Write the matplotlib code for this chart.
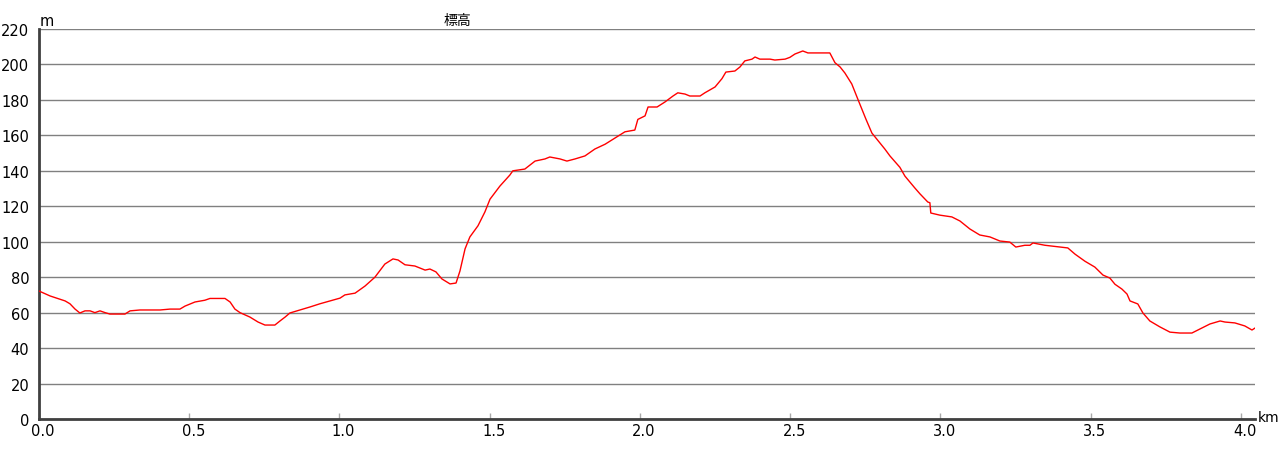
import matplotlib
matplotlib.use("Agg")
import matplotlib.pyplot as plt
import matplotlib.transforms as mtrans

plt.rcParams['font.family'] = ['DejaVu Sans', 'Noto Sans CJK JP']

# distance (km) and elevation (m)
dist_km = [0.000, 0.037, 0.087, 0.103, 0.120, 0.136, 0.153, 0.170, 0.186, 0.203,
           0.220, 0.236, 0.286, 0.303, 0.336, 0.403, 0.436, 0.469, 0.486, 0.519,
           0.552, 0.569, 0.619, 0.636, 0.652, 0.669, 0.702, 0.729, 0.752, 0.785,
           0.802, 0.819, 0.835, 0.869, 0.902, 0.935, 0.968, 1.002, 1.018, 1.052,
           1.085, 1.118, 1.151, 1.178, 1.195, 1.218, 1.251, 1.285, 1.301, 1.321,
           1.341, 1.368, 1.388, 1.401, 1.418, 1.434, 1.461, 1.484, 1.501, 1.534,
           1.567, 1.577, 1.617, 1.651, 1.684, 1.700, 1.734, 1.757, 1.784, 1.817,
           1.850, 1.884, 1.917, 1.950, 1.983, 1.993, 2.017, 2.027, 2.057, 2.083,
           2.110, 2.126, 2.150, 2.166, 2.200, 2.216, 2.250, 2.273, 2.286, 2.316,
           2.333, 2.349, 2.373, 2.383, 2.399, 2.433, 2.449, 2.483, 2.499, 2.516,
           2.542, 2.559, 2.582, 2.632, 2.649, 2.666, 2.682, 2.705, 2.725, 2.752,
           2.772, 2.799, 2.815, 2.832, 2.865, 2.882, 2.915, 2.932, 2.958, 2.965,
           2.968, 2.998, 3.038, 3.065, 3.098, 3.131, 3.165, 3.198, 3.231, 3.251,
           3.281, 3.298, 3.308, 3.348, 3.398, 3.424, 3.448, 3.481, 3.514, 3.541,
           3.564, 3.581, 3.604, 3.621, 3.631, 3.657, 3.674, 3.697, 3.730, 3.764,
           3.797, 3.837, 3.864, 3.897, 3.931, 3.947, 3.980, 4.013, 4.037, 4.047]
elev_m = [72.2, 69.4, 66.6, 65.0, 62.0, 59.8, 61.0, 61.0, 60.0, 61.0,
          60.0, 59.2, 59.2, 61.0, 61.5, 61.5, 62.0, 62.0, 63.7, 66.0,
          67.0, 68.0, 68.0, 66.0, 62.0, 60.0, 57.5, 54.7, 53.0, 53.0,
          55.3, 57.5, 59.8, 61.5, 63.2, 65.0, 66.6, 68.2, 70.0, 71.0,
          75.0, 80.0, 87.4, 90.3, 89.7, 87.0, 86.3, 84.0, 84.6, 83.0,
          79.0, 76.2, 76.7, 83.5, 96.0, 102.7, 109.0, 116.8, 124.0, 131.4,
          137.6, 140.0, 141.0, 145.5, 146.7, 147.8, 146.7, 145.5, 146.7, 148.4,
          152.3, 155.0, 158.5, 162.0, 163.0, 169.0, 171.0, 176.0, 176.0, 178.8,
          182.2, 184.0, 183.3, 182.2, 182.2, 184.0, 187.3, 192.0, 195.7, 196.3,
          198.6, 202.0, 203.0, 204.2, 203.0, 203.0, 202.5, 203.0, 204.0, 205.9,
          207.6, 206.5, 206.5, 206.5, 201.0, 198.6, 195.2, 189.0, 180.5, 169.2,
          161.3, 155.7, 152.3, 148.4, 142.0, 137.0, 130.3, 127.0, 122.4, 122.0,
          116.2, 115.0, 114.0, 111.7, 107.2, 103.8, 102.7, 100.4, 99.8, 97.0,
          98.0, 98.0, 99.3, 98.0, 97.0, 96.5, 93.0, 89.0, 85.7, 81.2,
          79.5, 76.0, 73.3, 70.5, 66.6, 64.9, 59.8, 55.3, 52.0, 49.0,
          48.5, 48.5, 50.8, 53.6, 55.3, 54.7, 54.2, 52.5, 50.2, 51.3]

x_ticks = [0.0, 0.5, 1.0, 1.5, 2.0, 2.5, 3.0, 3.5, 4.0]
x_tick_labels = ["0.0", "0.5", "1.0", "1.5", "2.0", "2.5", "3.0", "3.5", "4.0"]
y_ticks = [0, 20, 40, 60, 80, 100, 120, 140, 160, 180, 200, 220]
title = "標高"
y_unit = "m"
x_unit = "km"

W, H = 1280, 460
fig = plt.figure(figsize=(W / 100, H / 100), dpi=100)
ax = fig.add_axes([39 / W, 1 - 420 / H, (1255 - 39) / W, (420 - 30) / H])

ax.plot(dist_km, elev_m, color='#ff0000', lw=1.0, zorder=3)

ax.set_xlim(0, 4.047)
ax.set_ylim(0, 220)
ax.set_yticks(y_ticks)
ax.set_xticks(x_ticks)
ax.set_xticklabels(x_tick_labels)
ax.yaxis.grid(True, color='#808080', lw=1.0)
ax.set_axisbelow(True)

for s in ('top', 'right'):
    ax.spines[s].set_visible(False)
for s in ('left', 'bottom'):
    ax.spines[s].set_color('#404040')
    ax.spines[s].set_linewidth(2.0)

ax.tick_params(axis='y', length=0, pad=7, labelsize=10.5, labelcolor='#000000')
ax.tick_params(axis='x', direction='in', length=4, color='#aaaaaa', width=1,
               pad=3, labelsize=10.5, labelcolor='#000000')

offset = mtrans.ScaledTranslation(4 / 100, 0, fig.dpi_scale_trans)
for lab in ax.get_xticklabels():
    lab.set_transform(lab.get_transform() + offset)

fig.text(40 / W, 1 - 21 / H, y_unit, fontsize=10.5, ha='left', va='center')
fig.text(1258 / W, 1 - 418 / H, x_unit, fontsize=10, ha='left', va='center')
fig.text(457 / W, 1 - 21 / H, title, fontsize=10, ha='center', va='center',
         family=['Noto Sans CJK JP', 'DejaVu Sans'])

fig.savefig('out.png', dpi=100)
